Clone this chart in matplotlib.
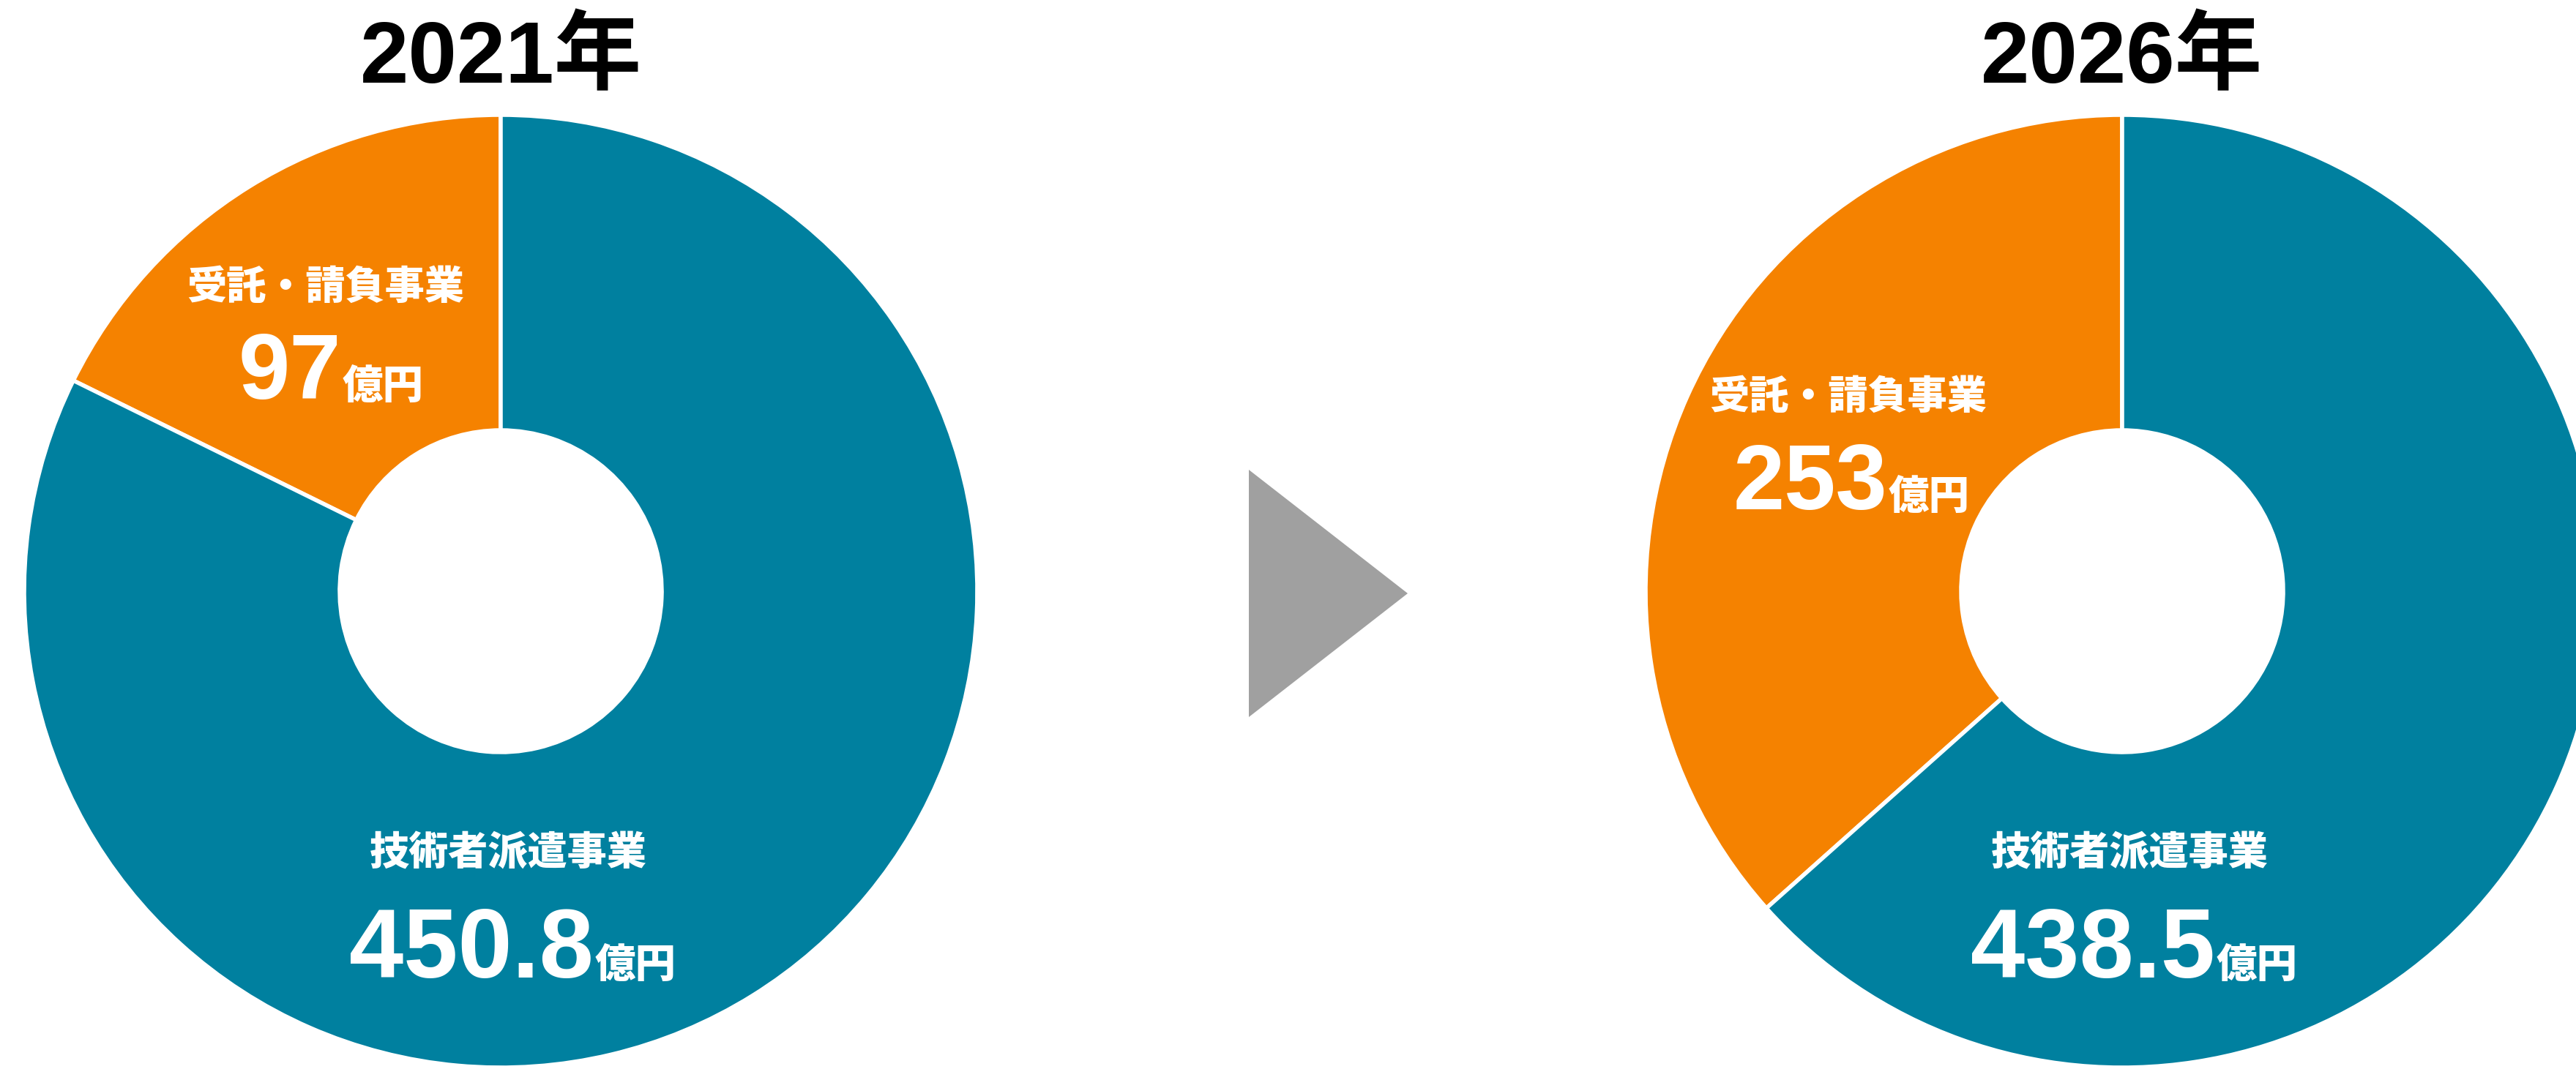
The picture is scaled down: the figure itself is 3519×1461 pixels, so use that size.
import matplotlib
matplotlib.use("Agg")
import matplotlib.pyplot as plt
from matplotlib.patches import Polygon

# data
years = ["2021年", "2026年"]
segments = ["受託・請負事業", "技術者派遣事業"]
values_2021 = [97, 450.8]
values_2026 = [253, 438.5]
value_labels_2021 = ["97", "450.8"]
value_labels_2026 = ["253", "438.5"]
unit = "億円"

orange = "#F58200"
blue = "#00809F"

W, H = 3519, 1461
fig = plt.figure(figsize=(W / 100, H / 100), dpi=100)
ax = fig.add_axes([0, 0, 1, 1])

def Y(y):
    # image rows -> data y
    return H - y

R = 651
ring = 431
centers = [(684, 808), (2899, 808)]

for (cx, cy), vals in zip(centers, [values_2021, values_2026]):
    ax.pie(vals, colors=[orange, blue], startangle=90, counterclock=True,
           radius=R, center=(cx, Y(cy)),
           wedgeprops=dict(width=ring, edgecolor="white", linewidth=4))

ax.set_xlim(0, W)
ax.set_ylim(0, H)
ax.set_aspect("equal")
ax.axis("off")

# arrow between the two donuts
tri = Polygon([(1706, Y(642)), (1923, Y(811)), (1706, Y(980))],
              closed=True, facecolor="#A0A0A0", edgecolor="none")
ax.add_patch(tri)

num_font = ["Liberation Sans", "Noto Sans CJK JP"]
jp_font = ["Noto Sans CJK JP", "DejaVu Sans"]

# titles
for (cx, cy), t in zip(centers, years):
    ax.text(cx, Y(113), t, ha="center", va="baseline", fontsize=86,
            fontweight="bold", family=num_font, color="black")

def label(cat_x, cat_base, split_x, num_base, cat, num, num_size):
    ax.text(cat_x, Y(cat_base), cat, ha="center", va="baseline",
            fontsize=39, fontweight="heavy", family=jp_font, color="white")
    ax.text(split_x, Y(num_base), num, ha="right", va="baseline",
            fontsize=num_size, fontweight="bold", family=num_font, color="white")
    ax.text(split_x + 2, Y(num_base), unit, ha="left", va="baseline",
            fontsize=40, fontweight="heavy", family=jp_font, color="white")

# 2021
label(445, 409, 466, 545, segments[0], value_labels_2021[0], 91)
label(694, 1182, 811, 1336, segments[1], value_labels_2021[1], 96)
# 2026
label(2525, 559, 2578, 696, segments[0], value_labels_2026[0], 91)
label(2909, 1182, 3026, 1336, segments[1], value_labels_2026[1], 96)

fig.savefig("out.png", dpi=100, facecolor="white")
